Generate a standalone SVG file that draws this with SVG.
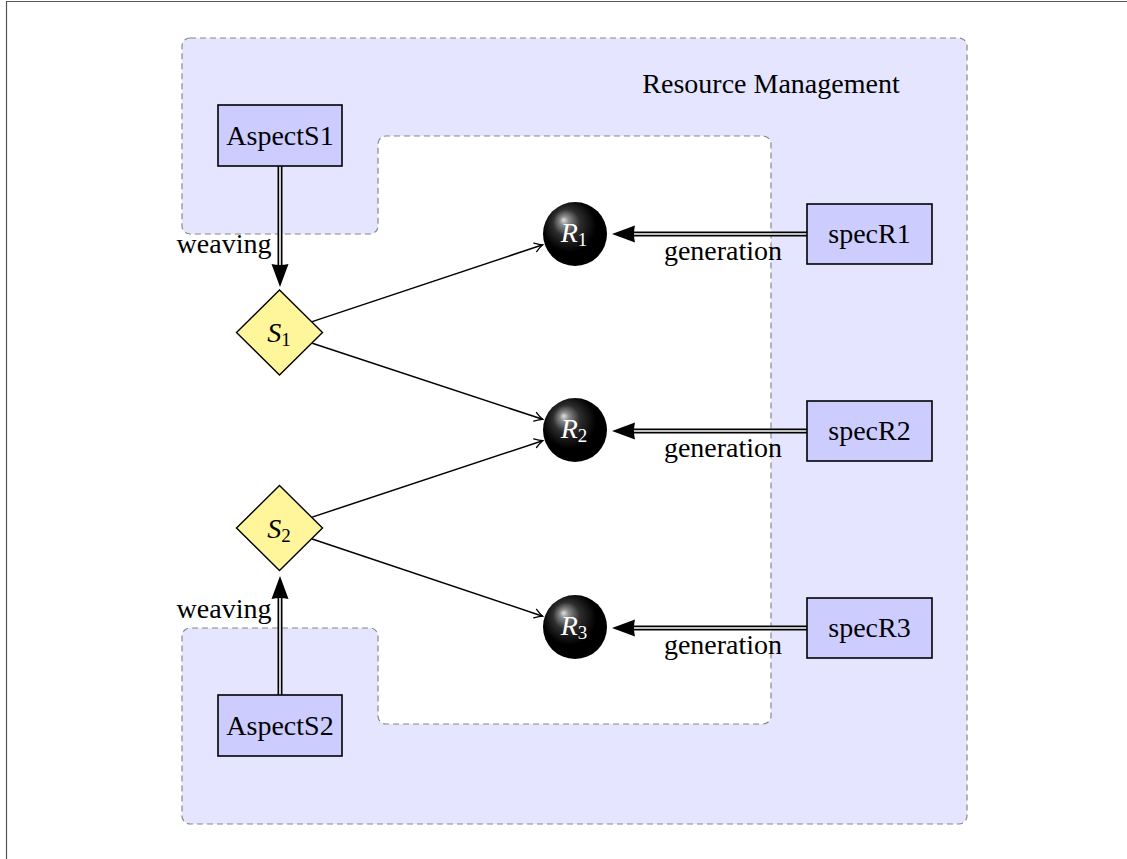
<svg xmlns="http://www.w3.org/2000/svg" width="1127" height="859" viewBox="0 0 1127 859">
<style>
text{font-family:"Liberation Serif","DejaVu Serif",serif;font-size:28px;fill:#000}
.box{fill:#ccccff;stroke:#000;stroke-width:1.6}
.dia{fill:#fff59a;stroke:#000;stroke-width:1.4}
.thin{stroke:#000;stroke-width:1.5;fill:none;marker-end:url(#to)}
.dblo{stroke:#000;stroke-width:5;fill:none}
.dbli{stroke:#fff;stroke-width:1.6;fill:none}
.it{font-style:italic}
.sub{font-size:19px;font-style:normal}
.bl{fill:#fff}
</style>
<defs>
<marker id="to" markerUnits="userSpaceOnUse" orient="auto" markerWidth="12" markerHeight="12" refX="0" refY="0" viewBox="-10 -6 12 12" overflow="visible">
<path d="M -8 -4.5 Q -3 -1 0 0 Q -3 1 -8 4.5" fill="none" stroke="#000" stroke-width="1.3" stroke-linecap="round"/>
</marker>
<path id="head" d="M 0 0 L -23 -8.5 Q -21 0 -23 8.5 Z" fill="#000"/>
<radialGradient id="ball" cx="0.45" cy="0.4" r="0.6" fx="0.32" fy="0.28">
<stop offset="0" stop-color="#e0e0e0"/>
<stop offset="0.12" stop-color="#8a8a8a"/>
<stop offset="0.35" stop-color="#2e2e2e"/>
<stop offset="0.7" stop-color="#000"/>
<stop offset="1" stop-color="#000"/>
</radialGradient>
</defs>
<rect width="1127" height="859" fill="#fff"/>
<path d="M 6.5 859 V 1.5 H 1127" fill="none" stroke="#555" stroke-width="1.2"/>
<g id="region">
<path d="M 190,38 H 959 A 8 8 0 0 1 967,46 V 816 A 8 8 0 0 1 959,824 H 190 A 8 8 0 0 1 182,816 V 636 A 8 8 0 0 1 190,628 H 370 A 8 8 0 0 1 378,636 V 716 A 8 8 0 0 0 386,724 H 763 A 8 8 0 0 0 771,716 V 144 A 8 8 0 0 0 763,136 H 386 A 8 8 0 0 0 378,144 V 226 A 8 8 0 0 1 370,234 H 190 A 8 8 0 0 1 182,226 V 46 A 8 8 0 0 1 190,38 Z" fill="#e5e5ff" stroke="#888" stroke-width="1.2" stroke-dasharray="6 4"/>
<text x="771" y="93" text-anchor="middle">Resource Management</text>
</g>
<g id="connectors">
<line class="thin" x1="312.2" y1="321.6" x2="542.8" y2="244.8"/>
<line class="thin" x1="312.3" y1="343.3" x2="542.7" y2="419.3"/>
<line class="thin" x1="312.2" y1="517.1" x2="542.7" y2="440.7"/>
<line class="thin" x1="312.2" y1="539.0" x2="542.7" y2="616.2"/>
<line class="dblo" x1="280" y1="166" x2="280" y2="266"/>
<line class="dbli" x1="280" y1="166" x2="280" y2="266"/>
<use href="#head" transform="translate(280,287) rotate(90)"/>
<line class="dblo" x1="280" y1="695" x2="280" y2="597"/>
<line class="dbli" x1="280" y1="695" x2="280" y2="597"/>
<use href="#head" transform="translate(280,576) rotate(-90)"/>
<line class="dblo" x1="807" y1="234" x2="631" y2="234"/>
<line class="dbli" x1="807" y1="234" x2="631" y2="234"/>
<use href="#head" transform="translate(612,234) rotate(180)"/>
<line class="dblo" x1="807" y1="431" x2="631" y2="431"/>
<line class="dbli" x1="807" y1="431" x2="631" y2="431"/>
<use href="#head" transform="translate(612,431) rotate(180)"/>
<line class="dblo" x1="807" y1="628" x2="631" y2="628"/>
<line class="dbli" x1="807" y1="628" x2="631" y2="628"/>
<use href="#head" transform="translate(612,628) rotate(180)"/>
<text x="224" y="253" text-anchor="middle">weaving</text>
<text x="224" y="618" text-anchor="middle">weaving</text>
<text x="723" y="260" text-anchor="middle">generation</text>
<text x="723" y="457" text-anchor="middle">generation</text>
<text x="723" y="654" text-anchor="middle">generation</text>
</g>
<g id="AspectS1">
<rect class="box" x="218" y="105" width="124" height="61"/>
<text x="280" y="145" text-anchor="middle">AspectS1</text>
</g>
<g id="AspectS2">
<rect class="box" x="218" y="695" width="124" height="61"/>
<text x="280" y="735" text-anchor="middle">AspectS2</text>
</g>
<g id="specR1">
<rect class="box" x="807" y="204" width="125" height="60"/>
<text x="869.5" y="243" text-anchor="middle">specR1</text>
</g>
<g id="specR2">
<rect class="box" x="807" y="401" width="125" height="60"/>
<text x="869.5" y="440" text-anchor="middle">specR2</text>
</g>
<g id="specR3">
<rect class="box" x="807" y="598" width="125" height="60"/>
<text x="869.5" y="637" text-anchor="middle">specR3</text>
</g>
<g id="S1">
<polygon class="dia" points="279.5,290 322.5,332.5 279.5,375 236.5,332.5"/>
<text x="279" y="342" text-anchor="middle"><tspan class="it">S</tspan><tspan class="sub" dy="4">1</tspan></text>
</g>
<g id="S2">
<polygon class="dia" points="279.5,485.5 322.5,528 279.5,570.5 236.5,528"/>
<text x="279" y="538" text-anchor="middle"><tspan class="it">S</tspan><tspan class="sub" dy="4">2</tspan></text>
</g>
<g id="R1">
<circle cx="575" cy="234" r="32" fill="url(#ball)"/>
<text class="bl" x="574" y="242" text-anchor="middle"><tspan class="it">R</tspan><tspan class="sub" dy="4">1</tspan></text>
</g>
<g id="R2">
<circle cx="575" cy="430" r="32" fill="url(#ball)"/>
<text class="bl" x="574" y="438" text-anchor="middle"><tspan class="it">R</tspan><tspan class="sub" dy="4">2</tspan></text>
</g>
<g id="R3">
<circle cx="575" cy="627" r="32" fill="url(#ball)"/>
<text class="bl" x="574" y="635" text-anchor="middle"><tspan class="it">R</tspan><tspan class="sub" dy="4">3</tspan></text>
</g>
</svg>
